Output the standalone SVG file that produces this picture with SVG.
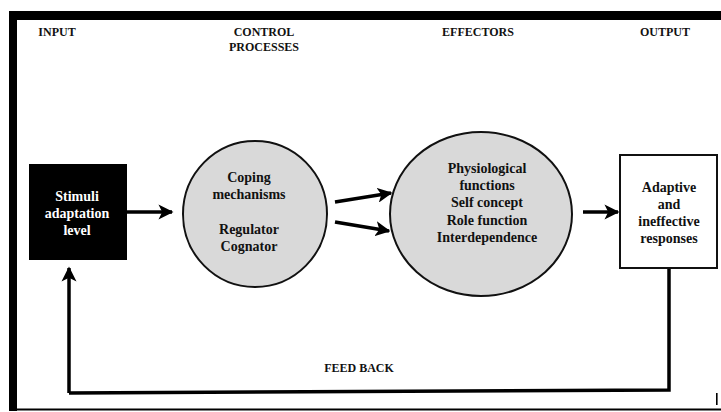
<svg xmlns="http://www.w3.org/2000/svg" width="721" height="412" viewBox="0 0 721 412">
<style>
text{font-family:"Liberation Serif","Times New Roman",serif;font-weight:bold;fill:#111;text-anchor:middle}
.h{font-size:12px}
.t{font-size:14px}
.w{fill:#fff}
.c{fill:#d9d9d9;stroke:#111;stroke-width:2}
.con{fill:none;stroke:#000;stroke-width:3.5}
</style>
<defs>
<marker id="ah" viewBox="0 0 10 10" refX="9" refY="5" markerWidth="4.3" markerHeight="4.3" orient="auto" markerUnits="strokeWidth">
<path d="M0,0 L10,5 L0,10 L2.5,5 Z" fill="#000"/>
</marker>
</defs>
<rect x="0" y="0" width="721" height="412" fill="#fff"/>
<g id="frame">
<rect x="9" y="11" width="712" height="9" fill="#000"/>
<rect x="9" y="11" width="8" height="400" fill="#000"/>
<rect x="9" y="408.5" width="712" height="2" fill="#000"/>
<rect x="716" y="393" width="1.6" height="12" fill="#000"/>
</g>
<g id="headers">
<text class="h" x="57" y="36">INPUT</text>
<text class="h" x="264" y="36">CONTROL</text>
<text class="h" x="264" y="51">PROCESSES</text>
<text class="h" x="478" y="36">EFFECTORS</text>
<text class="h" x="665" y="36">OUTPUT</text>
</g>
<g id="connectors">
<line class="con" x1="127" y1="212" x2="172" y2="212" marker-end="url(#ah)"/>
<line class="con" x1="335" y1="202" x2="391" y2="193" marker-end="url(#ah)"/>
<line class="con" x1="335" y1="222" x2="389" y2="231" marker-end="url(#ah)"/>
<line class="con" x1="583" y1="212" x2="618" y2="212" marker-end="url(#ah)"/>
<polyline class="con" points="669,268 669,390 69,393" />
<line class="con" x1="69" y1="393" x2="69" y2="268" marker-end="url(#ah)"/>
<text class="h" x="359" y="372">FEED BACK</text>
</g>
<g id="stimuli">
<rect x="29" y="164" width="98" height="96" fill="#000"/>
<text class="t w" x="77" y="201">Stimuli</text>
<text class="t w" x="77" y="218">adaptation</text>
<text class="t w" x="77" y="235">level</text>
</g>
<g id="control">
<ellipse class="c" cx="255" cy="214" rx="72" ry="73"/>
<text class="t" x="249" y="182">Coping</text>
<text class="t" x="249" y="199">mechanisms</text>
<text class="t" x="249" y="234">Regulator</text>
<text class="t" x="249" y="251">Cognator</text>
</g>
<g id="effectors">
<ellipse class="c" cx="481" cy="214" rx="91" ry="82"/>
<text class="t" x="487" y="173">Physiological</text>
<text class="t" x="487" y="190">functions</text>
<text class="t" x="487" y="207">Self concept</text>
<text class="t" x="487" y="225">Role function</text>
<text class="t" x="487" y="242">Interdependence</text>
</g>
<g id="output">
<rect x="620" y="155" width="97" height="113" fill="#fff" stroke="#111" stroke-width="2"/>
<text class="t" x="669" y="192">Adaptive</text>
<text class="t" x="669" y="209">and</text>
<text class="t" x="669" y="226">ineffective</text>
<text class="t" x="669" y="243">responses</text>
</g>
</svg>
